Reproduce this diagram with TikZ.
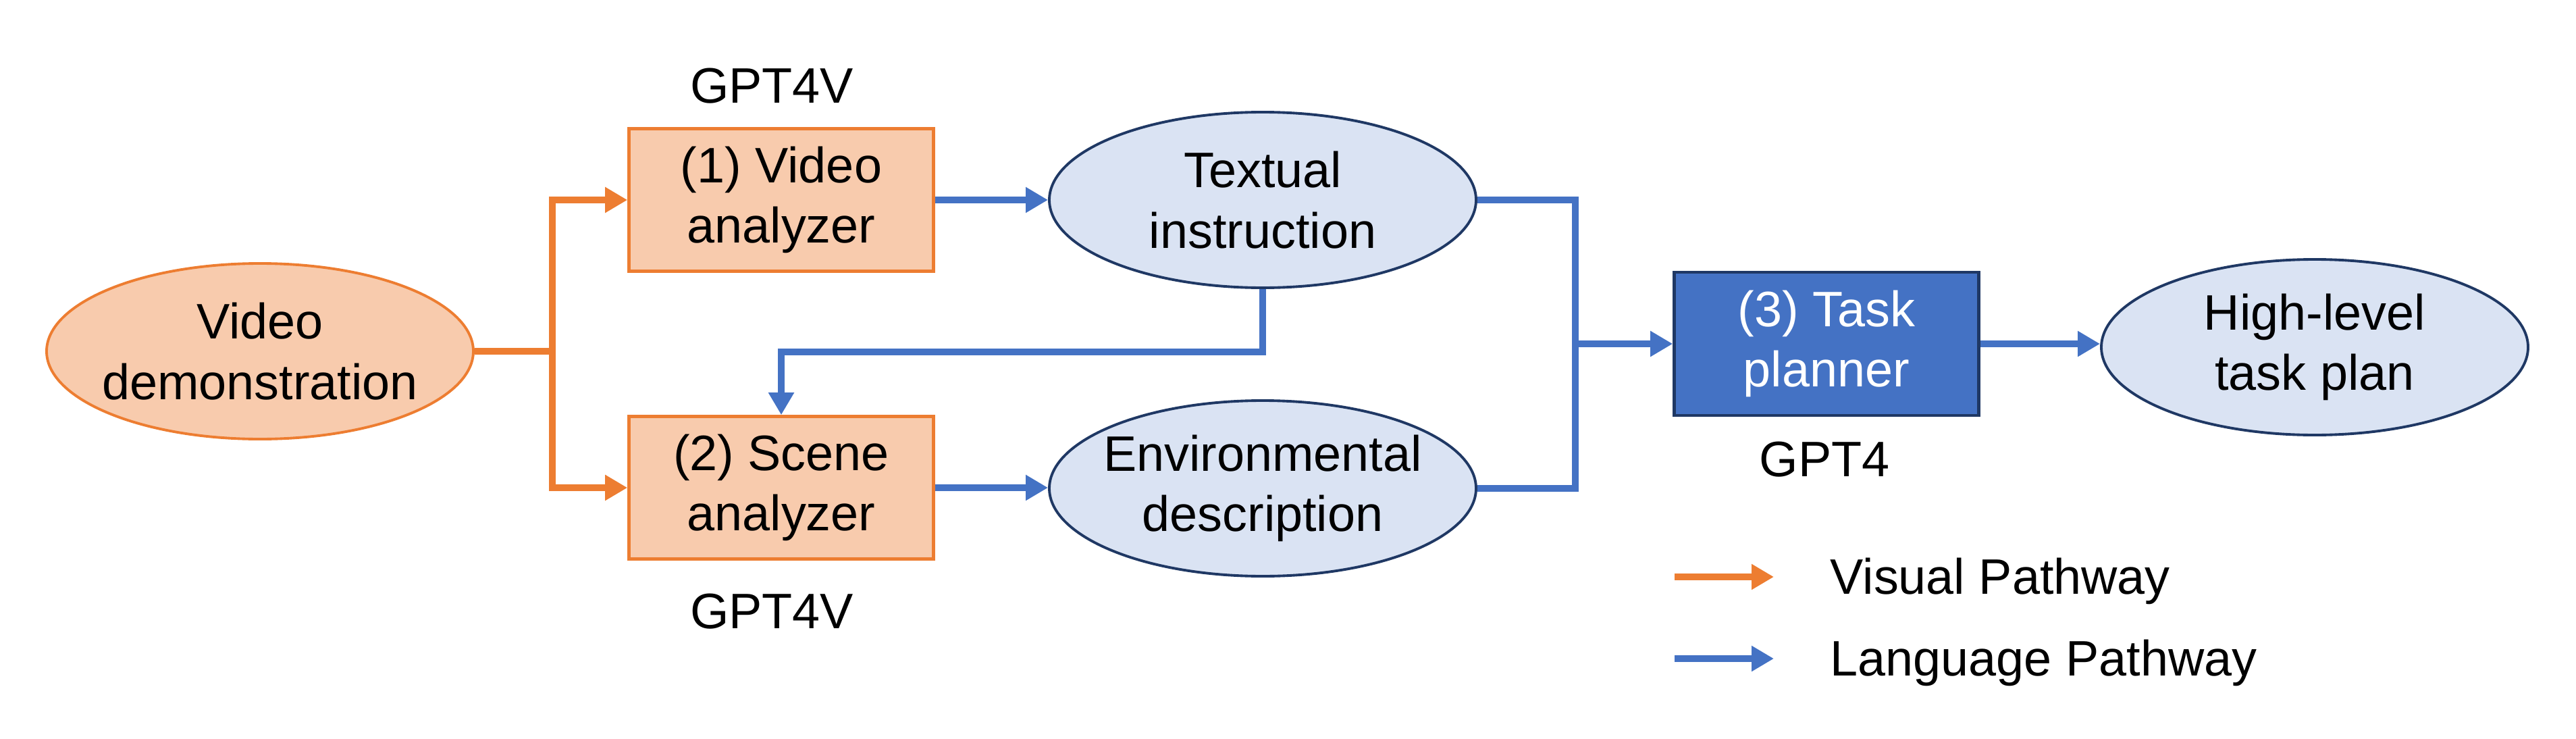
\documentclass[tikz,border=0pt]{standalone}
\usepackage{fontspec}
\setmainfont{Liberation Sans}
\usetikzlibrary{arrows.meta,shapes.geometric}
\definecolor{orline}{HTML}{ED7D31}
\definecolor{orfill}{HTML}{F8CBAD}
\definecolor{blline}{HTML}{4472C4}
\definecolor{blfill}{HTML}{DAE3F3}
\definecolor{navy}{HTML}{1F3864}
\tikzset{
  txt/.style={font=\fontsize{21}{25.5}\selectfont, align=center},
  obox/.style={txt, rectangle, draw=orline, fill=orfill, line width=1.3pt, minimum width=4.51cm, minimum height=2.11cm, inner sep=0pt},
  bbox/.style={txt, rectangle, draw=navy, fill=blline, text=white, line width=1.3pt, minimum width=4.51cm, minimum height=2.12cm, inner sep=0pt},
  oell/.style={ellipse, draw=orline, fill=orfill, line width=1.1pt, minimum width=6.32cm, minimum height=2.60cm, inner sep=0pt},
  bell/.style={ellipse, draw=navy, fill=blfill, line width=1.1pt, minimum width=6.32cm, minimum height=2.60cm, inner sep=0pt},
  oline/.style={draw=orline, line width=2.9pt},
  bline/.style={draw=blline, line width=2.9pt},
  oarr/.style={oline, -{Triangle[length=0.33cm,width=0.36cm]}},
  barr/.style={bline, -{Triangle[length=0.33cm,width=0.36cm]}},
  lbl/.style={font=\fontsize{21}{25.5}\selectfont}
}
\begin{document}
\begin{tikzpicture}
\useasboundingbox (0,0) rectangle (38.15,-10.94);
\fill[white] (0,0) rectangle (38.15,-10.94);
% nodes
\node[oell, label={[txt]center:Video\\demonstration}] (vd) at (3.85,-5.20) {};
\node[obox] (va) at (11.57,-2.96) {(1) Video\\analyzer};
\node[obox] (sa) at (11.57,-7.22) {(2) Scene\\analyzer};
\node[bell, label={[txt]center:Textual\\instruction}] (ti) at (18.70,-2.96) {};
\node[bell, label={[txt]center:Environmental\\description}] (ed) at (18.70,-7.23) {};
\node[bbox] (tp) at (27.05,-5.09) {(3) Task\\planner};
\node[bell, label={[txt]center:High-level\\task plan}] (hl) at (34.28,-5.14) {};
% labels
\node[lbl] (g1) at (11.43,-1.27) {GPT4V};
\node[lbl] (g2) at (11.43,-9.05) {GPT4V};
\node[lbl] (g3) at (27.02,-6.80) {GPT4};
% junctions
\coordinate (j1) at (8.18,-5.20);
\coordinate (j2) at (23.33,-5.09);
\coordinate (j3) at (18.69,-5.21);
% connectors
\draw[oline] (vd.east) -- (j1);
\draw[oarr] (j1) |- (va.west);
\draw[oarr] (j1) |- (sa.west);
\draw[barr] (va.east) -- (va.east -| ti.west);
\draw[barr] (sa.east) -- (sa.east -| ed.west);
\draw[barr] (ti.south) -- (ti.south |- j3) -| (sa.north);
\draw[bline] (ti.east) -| (j2);
\draw[bline] (ed.east) -| (j2);
\draw[barr] (j2) -- (tp.west);
\draw[barr] (tp.east) -- (tp.east -| hl.west);
% legend
\coordinate (l1s) at (24.80,-8.54);
\coordinate (l1e) at (26.27,-8.54);
\coordinate (l2s) at (24.80,-9.75);
\coordinate (l2e) at (26.27,-9.75);
\draw[oarr] (l1s) -- (l1e);
\draw[barr] (l2s) -- (l2e);
\node[lbl, anchor=base west, inner sep=0pt] (t1) at (27.10,-8.79) {Visual Pathway};
\node[lbl, anchor=base west, inner sep=0pt] (t2) at (27.10,-10.00) {Language Pathway};
\end{tikzpicture}
\end{document}
